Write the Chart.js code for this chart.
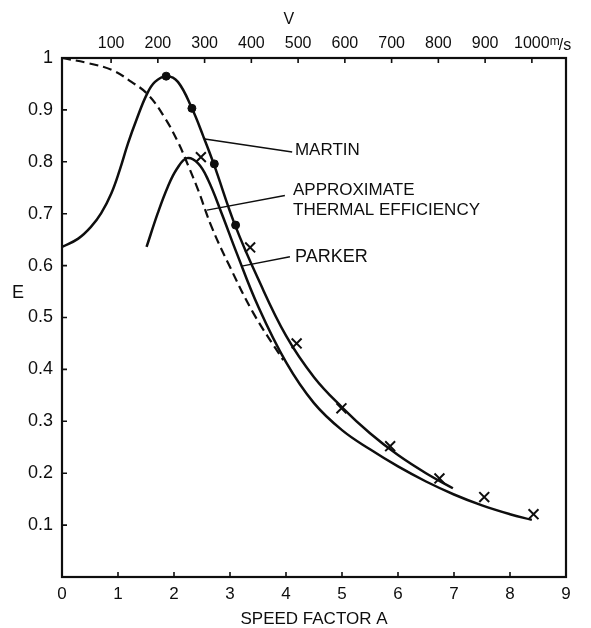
<!DOCTYPE html>
<html>
<head>
<meta charset="utf-8">
<script src="https://cdn.jsdelivr.net/npm/chart.js@4.4.0/dist/chart.umd.min.js"></script>
<style>
  html, body { margin: 0; padding: 0; background: #fff; }
  #wrap { width: 591px; height: 628px; position: relative; }
</style>
</head>
<body>
<div id="wrap"><canvas id="effChart"></canvas></div>
<script>
// speed factor A against efficiency E
var martinA = [0, 0.29, 0.52, 0.70, 0.88, 1.03, 1.18, 1.33, 1.51, 1.66, 1.87, 2.07, 2.32, 2.52, 2.71, 3.09, 3.5, 4.0, 4.5, 5.0, 5.5, 6.0, 6.5, 6.98];
var martinE = [0.636, 0.652, 0.675, 0.701, 0.739, 0.784, 0.836, 0.881, 0.929, 0.954, 0.965, 0.954, 0.903, 0.850, 0.796, 0.678, 0.575, 0.465, 0.385, 0.327, 0.277, 0.235, 0.200, 0.171];

var parkerA = [1.51, 1.71, 1.89, 2.05, 2.23, 2.43, 2.61, 2.85, 3.12, 3.5, 4.0, 4.5, 5.0, 5.5, 6.0, 6.5, 7.0, 7.5, 8.0, 8.39];
var parkerE = [0.636, 0.701, 0.752, 0.786, 0.807, 0.797, 0.765, 0.701, 0.624, 0.522, 0.414, 0.335, 0.283, 0.246, 0.213, 0.184, 0.159, 0.138, 0.121, 0.110];

var thermalA = [0, 0.47, 0.89, 1.24, 1.54, 1.84, 2.08, 2.26, 2.43, 2.67, 2.97, 3.42, 3.95];
var thermalE = [1.0, 0.99, 0.977, 0.954, 0.929, 0.884, 0.836, 0.791, 0.746, 0.675, 0.604, 0.508, 0.418];

var martinPtsA = [1.86, 2.32, 2.72, 3.10];
var martinPtsE = [0.965, 0.903, 0.796, 0.678];

var parkerPtsA = [2.48, 3.36, 4.19, 4.99, 5.86, 6.74, 7.54, 8.42];
var parkerPtsE = [0.809, 0.635, 0.450, 0.325, 0.252, 0.190, 0.154, 0.121];

var speedTicks = [0, 1, 2, 3, 4, 5, 6, 7, 8, 9];
var effTicks = [0.1, 0.2, 0.3, 0.4, 0.5, 0.6, 0.7, 0.8, 0.9, 1];
var velocityTicks = [100, 200, 300, 400, 500, 600, 700, 800, 900, 1000];

function pts(xs, ys) {
    return xs.map(function (x, i) { return { x: x, y: ys[i] }; });
}

var ink = '#0e0e0e';
var fontName = '"Liberation Sans", Arial, sans-serif';

// frame round the plot and short ticks pointing inward
var framePlugin = {
    id: 'frame',
    afterDraw: function (chart) {
        var ctx = chart.ctx, a = chart.chartArea;
        var sx = chart.scales.x, sy = chart.scales.y, sv = chart.scales.v;
        ctx.save();
        ctx.strokeStyle = ink;
        ctx.lineWidth = 2.2;
        ctx.strokeRect(a.left, a.top, a.right - a.left, a.bottom - a.top);
        ctx.lineWidth = 1.6;
        ctx.beginPath();
        sx.ticks.forEach(function (t) {
            var p = sx.getPixelForValue(t.value);
            ctx.moveTo(p, a.bottom); ctx.lineTo(p, a.bottom - 5);
        });
        sv.ticks.forEach(function (t) {
            var p = sv.getPixelForValue(t.value);
            ctx.moveTo(p, a.top); ctx.lineTo(p, a.top + 5);
        });
        sy.ticks.forEach(function (t) {
            var p = sy.getPixelForValue(t.value);
            ctx.moveTo(a.left, p); ctx.lineTo(a.left + 5, p);
        });
        ctx.stroke();
        ctx.restore();
    }
};

// axis letters and the curve labels with their leader lines
var notesPlugin = {
    id: 'notes',
    afterDraw: function (chart) {
        var ctx = chart.ctx, a = chart.chartArea;
        var sx = chart.scales.x, sy = chart.scales.y, sv = chart.scales.v;
        function X(v) { return sx.getPixelForValue(v); }
        function Y(v) { return sy.getPixelForValue(v); }
        ctx.save();
        ctx.fillStyle = ink;
        ctx.strokeStyle = ink;

        ctx.font = '18px ' + fontName;
        ctx.textAlign = 'center';
        ctx.textBaseline = 'middle';
        ctx.fillText('E', a.left - 44, Y(0.547));
        ctx.font = '16px ' + fontName;
        ctx.fillText('V', X(4.05), a.top - 38);

        var endX = sv.getPixelForValue(1000) + 19;
        ctx.textAlign = 'left';
        ctx.textBaseline = 'alphabetic';
        ctx.font = '12px ' + fontName;
        ctx.fillText('m', endX - 1, a.top - 13);
        ctx.font = '16px ' + fontName;
        ctx.fillText('/s', endX + 8, a.top - 8);

        ctx.lineWidth = 1.4;
        ctx.beginPath();
        ctx.moveTo(X(2.55), Y(0.844)); ctx.lineTo(X(4.11), Y(0.819));
        ctx.moveTo(X(2.59), Y(0.707)); ctx.lineTo(X(3.98), Y(0.735));
        ctx.moveTo(X(3.21), Y(0.599)); ctx.lineTo(X(4.07), Y(0.617));
        ctx.stroke();

        ctx.font = '17px ' + fontName;
        ctx.textBaseline = 'middle';
        ctx.fillText('MARTIN', X(4.16), Y(0.823));
        ctx.fillText('APPROXIMATE', X(4.125), Y(0.746));
        ctx.fillText('THERMAL EFFICIENCY', X(4.125), Y(0.707));
        ctx.font = '18px ' + fontName;
        ctx.fillText('PARKER', X(4.16), Y(0.617));
        ctx.restore();
    }
};

var ctx = document.getElementById('effChart');

new Chart(ctx, {
    type: 'scatter',
    data: {
        datasets: [{
            label: 'Martin',
            data: pts(martinA, martinE),
            showLine: true,
            borderColor: ink,
            borderWidth: 2.5,
            pointRadius: 0,
            tension: 0.4
        }, {
            label: 'Parker',
            data: pts(parkerA, parkerE),
            showLine: true,
            borderColor: ink,
            borderWidth: 2.5,
            pointRadius: 0,
            tension: 0.4
        }, {
            label: 'Approximate thermal efficiency',
            data: pts(thermalA, thermalE),
            showLine: true,
            borderColor: ink,
            borderWidth: 2.2,
            borderDash: [9, 5],
            pointRadius: 0,
            tension: 0.4
        }, {
            label: 'Martin data',
            data: pts(martinPtsA, martinPtsE),
            pointStyle: 'circle',
            pointRadius: 4,
            backgroundColor: ink,
            borderColor: ink
        }, {
            label: 'Parker data',
            data: pts(parkerPtsA, parkerPtsE),
            pointStyle: 'crossRot',
            pointRadius: 7,
            borderWidth: 2,
            borderColor: ink
        }]
    },
    options: {
        responsive: true,
        maintainAspectRatio: false,
        animation: false,
        layout: { padding: { left: 0, top: 0, right: 25, bottom: 0 } },
        plugins: {
            legend: { display: false },
            tooltip: { enabled: false }
        },
        scales: {
            x: {
                type: 'linear',
                position: 'bottom',
                min: 0,
                max: 9,
                afterBuildTicks: function (s) { s.ticks = speedTicks.map(function (v) { return { value: v }; }); },
                afterFit: function (s) { s.height = 51; },
                grid: { display: false, drawTicks: false },
                border: { display: false },
                ticks: {
                    color: ink,
                    padding: 7,
                    maxRotation: 0,
                    font: { family: fontName, size: 17 },
                    callback: function (v) { return String(v); }
                },
                title: {
                    display: true,
                    text: 'SPEED FACTOR A',
                    color: ink,
                    font: { family: fontName, size: 17, lineHeight: 1 },
                    padding: { top: 0, bottom: 0 }
                }
            },
            v: {
                type: 'linear',
                position: 'top',
                min: -5,
                max: 1073,
                afterBuildTicks: function (s) { s.ticks = velocityTicks.map(function (v) { return { value: v }; }); },
                afterFit: function (s) { s.height = 58; },
                grid: { display: false, drawTicks: false },
                border: { display: false },
                ticks: {
                    color: ink,
                    padding: 5,
                    maxRotation: 0,
                    font: { family: fontName, size: 16 },
                    callback: function (v) { return String(v); }
                }
            },
            y: {
                type: 'linear',
                min: 0,
                max: 1,
                afterBuildTicks: function (s) { s.ticks = effTicks.map(function (v) { return { value: v }; }); },
                afterFit: function (s) { s.width = 62; },
                grid: { display: false, drawTicks: false },
                border: { display: false },
                ticks: {
                    color: ink,
                    padding: 9,
                    font: { family: fontName, size: 18 },
                    callback: function (v) { return v === 1 ? '1' : v.toFixed(1); }
                }
            }
        }
    },
    plugins: [framePlugin, notesPlugin]
});
</script>
</body>
</html>
